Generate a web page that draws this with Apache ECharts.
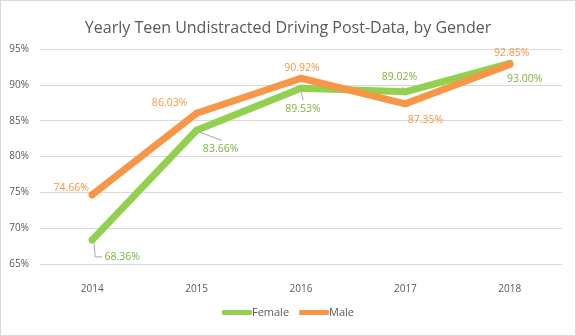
<!DOCTYPE html>
<html>
<head>
<meta charset="utf-8">
<script src="https://cdn.jsdelivr.net/npm/echarts@6/dist/echarts.min.js"></script>
<style>
html,body{margin:0;padding:0;background:#fff;}
#c{width:574px;height:334px;border:1px solid #d9d9d9;}
</style>
</head>
<body>
<div id="c"></div>
<script>
const categories = ['2014', '2015', '2016', '2017', '2018'];
const female = [68.36, 83.66, 89.53, 89.02, 93.00];
const male = [74.66, 86.03, 90.92, 87.35, 92.85];
const yTicks = [65, 70, 75, 80, 85, 90, 95];

// label offsets (pixels from point)
const femaleOffsets = [[30, 17], [24, 19], [2, 21], [-6, -15], [15, 16]];
const maleOffsets = [[-21, -7], [-27, -10], [1, -10.5], [20, 16], [2, -11.5]];

const chart = echarts.init(document.getElementById('c'), null, {renderer: 'canvas'});
const FONT = 'Open Sans';
const GREEN = '#92D050', ORANGE = '#F79646';
const GREEN_T = '#7AB43E', ORANGE_T = '#F79646';

function mkData(vals, offs, color) {
  return vals.map((v, i) => ({
    value: v,
    label: {
      show: true,
      position: 'inside',
      offset: offs[i],
      formatter: (p) => p.value.toFixed(2) + '%',
      color: color,
      fontFamily: FONT,
      fontSize: 10.5
    }
  }));
}

chart.setOption({
  animation: false,
  title: {
    text: 'Yearly Teen Undistracted Driving Post-Data, by Gender',
    left: 'center',
    top: 14,
    textStyle: {fontFamily: FONT, fontSize: 16, fontWeight: 'normal', color: '#595959'}
  },
  grid: {left: 39, right: 13, top: 48, bottom: 71},
  legend: {
    bottom: 12,
    left: 'center',
    icon: 'roundRect',
    itemWidth: 30,
    itemHeight: 5,
    itemGap: 10,
    textStyle: {fontFamily: FONT, fontSize: 11, color: '#595959', padding: [0, 0, 0, -5]},
    data: ['Female', 'Male']
  },
  xAxis: {
    type: 'category',
    data: categories,
    boundaryGap: true,
    axisLine: {show: true, lineStyle: {color: '#d9d9d9'}},
    axisTick: {show: false},
    axisLabel: {fontFamily: FONT, fontSize: 10, color: '#595959', margin: 20}
  },
  yAxis: {
    type: 'value',
    min: yTicks[0],
    max: yTicks[yTicks.length - 1],
    interval: 5,
    axisLine: {show: false},
    axisTick: {show: false},
    splitLine: {lineStyle: {color: '#d9d9d9'}},
    axisLabel: {fontFamily: FONT, fontSize: 10, color: '#595959', margin: 11, formatter: '{value}%'}
  },
  series: [
    {
      name: 'Female',
      type: 'line',
      data: mkData(female, femaleOffsets, GREEN_T),
      symbol: 'circle',
      symbolSize: 7,
      itemStyle: {color: GREEN},
      lineStyle: {width: 7, color: GREEN, cap: 'round', join: 'round'},
      z: 2
    },
    {
      name: 'Male',
      type: 'line',
      data: mkData(male, maleOffsets, ORANGE_T),
      symbol: 'circle',
      symbolSize: 7,
      itemStyle: {color: ORANGE},
      lineStyle: {width: 7, color: ORANGE, cap: 'round', join: 'round'},
      z: 3
    }
  ],
  graphic: []
});

// leader lines for female labels
function leaders() {
  const g = [];
  const segs = {
    0: (p) => [[p[0] + 2, p[1] + 4], [p[0] + 3, p[1] + 17], [p[0] + 10, p[1] + 17]],
    1: (p) => [[p[0] + 3, p[1] + 2], [p[0] + 25, p[1] + 10]],
    2: (p) => [[p[0], p[1] + 2], [p[0] + 2, p[1] + 12]],
    3: (p) => [[p[0], p[1]], [p[0] - 3, p[1] - 5]]
  };
  Object.keys(segs).forEach(k => {
    const i = +k;
    const p = chart.convertToPixel({seriesIndex: 0}, [i, female[i]]);
    g.push({
      type: 'polyline',
      shape: {points: segs[k](p)},
      style: {stroke: '#a6a6a6', lineWidth: 1, fill: null},
      z: 1
    });
  });
  chart.setOption({graphic: g});
}
leaders();
</script>
</body>
</html>
